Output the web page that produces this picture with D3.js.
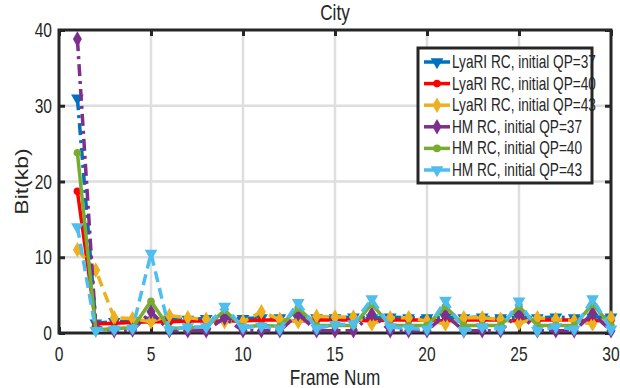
<!DOCTYPE html>
<html>
<head>
<meta charset="utf-8">
<script src="https://cdn.jsdelivr.net/npm/d3@7"></script>
<style>
  body { margin: 0; background: #fff; }
  text { font-family: "Liberation Sans", Arial, sans-serif; fill: #262626; }
</style>
</head>
<body>
<div id="chart"></div>
<script>
// frame numbers and bits (kb) per series
const frames = d3.range(1, 31);
const seriesNames = ["LyaRI RC, initial QP=37", "LyaRI RC, initial QP=40", "LyaRI RC, initial QP=43",
                     "HM RC, initial QP=37", "HM RC, initial QP=40", "HM RC, initial QP=43"];
const lyari37 = [31, 1.3, 1.5, 1.6, 1.7, 1.8, 1.8, 1.9, 1.9, 1.9, 2.0, 2.0, 2.0, 2.0, 2.0, 2.1, 2.0, 2.1, 2.0, 2.0, 2.1, 2.0, 2.1, 2.0, 2.1, 2.0, 2.1, 2.0, 2.1, 2.1];
const lyari40 = [18.7, 1.2, 1.3, 1.4, 1.5, 1.5, 1.6, 1.6, 1.6, 1.6, 1.7, 1.7, 1.6, 1.7, 1.7, 1.7, 1.6, 1.7, 1.7, 1.7, 1.6, 1.7, 1.7, 1.7, 1.6, 1.7, 1.7, 1.7, 1.6, 1.7];
const lyari43 = [11, 8.3, 2.0, 1.9, 1.5, 2.3, 2.0, 1.8, 1.5, 1.5, 2.8, 1.8, 1.5, 2.2, 2.1, 2.1, 1.2, 2.0, 2.0, 1.6, 1.2, 2.0, 2.0, 1.8, 1.3, 2.0, 1.8, 1.6, 1.2, 2.0];
const hm37 = [38.8, 0.8, 0.3, 0.4, 2.8, 0.3, 0.3, 0.3, 2.0, 0.3, 0.3, 0.3, 2.5, 0.3, 0.3, 0.3, 2.5, 0.3, 0.3, 0.3, 2.4, 0.3, 0.3, 0.3, 2.6, 0.3, 0.3, 0.3, 2.6, 0.3];
const hm40 = [23.8, 0.4, 0.6, 0.7, 4.2, 0.6, 0.7, 0.8, 3.0, 0.8, 1.0, 0.9, 3.3, 1.0, 1.0, 1.0, 3.8, 1.0, 1.0, 1.0, 3.5, 1.0, 1.0, 1.0, 3.5, 1.0, 1.0, 1.0, 3.8, 1.0];
const hm43 = [14, 0.3, 0.5, 0.6, 10.5, 0.4, 0.8, 0.8, 3.5, 0.7, 0.9, 0.5, 4.0, 0.6, 1.1, 1.2, 4.5, 0.8, 0.6, 0.5, 4.3, 0.3, 0.8, 0.5, 4.2, 0.3, 0.8, 0.5, 4.5, 0.5];
const xTicks = [0, 5, 10, 15, 20, 25, 30];
const yTicks = [0, 10, 20, 30, 40];

const seriesValues = [lyari37, lyari40, lyari43, hm37, hm40, hm43];
const colors = ["#0072BD", "#FF0000", "#EDB120", "#7E2F8E", "#77AC30", "#4DBEEE"];
const dashes = ["12,5,3,5", null, "11,6", "12,5,3,5", null, "11,6"];
const shapes = ["tri", "circle", "diamond", "diamond", "circle", "tri"];

let margin = {top: 30, right: 9, bottom: 55, left: 59},
    width = 620 - margin.left - margin.right,
    height = 388 - margin.top - margin.bottom;

const svg = d3.select("#chart").append("svg")
    .attr("width", 620).attr("height", 388)
    .append("g")
    .attr("transform", `translate(${margin.left},${margin.top})`);

const xScale = d3.scaleLinear().domain([0, 30]).range([0, width]);
const yScale = d3.scaleLinear().domain([0, 40]).range([height, 0]);

// condensed text, like the squeezed MATLAB export
function narrowText(parent, x, y, str, size, anchor) {
    return parent.append("text")
        .attr("transform", `translate(${x},${y}) scale(0.78,1)`)
        .attr("text-anchor", anchor || "start")
        .attr("font-size", size)
        .text(str);
}

// grid
svg.append("g").selectAll("line").data(xTicks.slice(1, -1)).join("line")
    .attr("x1", d => xScale(d)).attr("x2", d => xScale(d))
    .attr("y1", 0).attr("y2", height)
    .attr("stroke", "#dedede").attr("stroke-width", 2.5);
svg.append("g").selectAll("line").data(yTicks.slice(1, -1)).join("line")
    .attr("y1", d => yScale(d)).attr("y2", d => yScale(d))
    .attr("x1", 0).attr("x2", width)
    .attr("stroke", "#dedede").attr("stroke-width", 2.5);

// inward ticks on all four sides, labels drawn separately
svg.append("g").attr("transform", `translate(0,${height})`).call(d3.axisBottom(xScale).tickValues(xTicks).tickSize(-6).tickFormat(""));
svg.append("g").call(d3.axisLeft(yScale).tickValues(yTicks).tickSize(-6).tickFormat(""));
svg.append("g").call(d3.axisTop(xScale).tickValues(xTicks).tickSize(-6).tickFormat(""));
svg.append("g").attr("transform", `translate(${width},0)`).call(d3.axisRight(yScale).tickValues(yTicks).tickSize(-6).tickFormat(""));
svg.selectAll(".domain").remove();
svg.selectAll(".tick line").attr("stroke", "#262626").attr("stroke-width", 3);

xTicks.forEach(t => narrowText(svg, xScale(t), height + 28, t, 20, "middle"));
yTicks.forEach(t => narrowText(svg, -7, yScale(t) + 7, t, 20, "end"));

svg.append("rect").attr("width", width).attr("height", height)
    .attr("fill", "none").attr("stroke", "#262626").attr("stroke-width", 3);

function markerPath(shape) {
    if (shape === "tri") return d3.symbol(d3.symbolTriangle, 70)();
    if (shape === "circle") return d3.symbol(d3.symbolCircle, 45)();
    return d3.symbol(d3.symbolDiamond, 70)();
}
function markerRotate(shape) { return shape === "tri" ? " rotate(180)" : ""; }

const line = d3.line().x((d, i) => xScale(frames[i])).y(d => yScale(d));

seriesValues.forEach((vals, k) => {
    const g = svg.append("g");
    g.append("path").datum(vals)
        .attr("d", line)
        .attr("fill", "none")
        .attr("stroke", colors[k])
        .attr("stroke-width", 3.5)
        .attr("stroke-dasharray", dashes[k]);
    g.selectAll("path.m").data(vals).join("path")
        .attr("class", "m")
        .attr("d", markerPath(shapes[k]))
        .attr("transform", (d, i) => `translate(${xScale(frames[i])},${yScale(d)})` + markerRotate(shapes[k]))
        .attr("fill", colors[k]);
});

// title and labels
narrowText(svg, width / 2, -10, "City", 22, "middle");
narrowText(svg, width / 2, height + 52, "Frame Num", 22, "middle");
svg.append("text")
    .attr("transform", `translate(${-31},${height / 2}) rotate(-90) scale(1,0.8)`)
    .attr("text-anchor", "middle")
    .attr("font-size", 23)
    .text("Bit(kb)");

// legend
const legend = svg.append("g").attr("transform", `translate(${418 - margin.left},${48 - margin.top})`);
legend.append("rect").attr("width", 174).attr("height", 135)
    .attr("fill", "#fff").attr("stroke", "#262626").attr("stroke-width", 3);
seriesNames.forEach((name, k) => {
    const y = 14 + k * 21.6;
    legend.append("line").attr("x1", 6).attr("x2", 32).attr("y1", y).attr("y2", y)
        .attr("stroke", colors[k]).attr("stroke-width", 3.5);
    legend.append("path").attr("d", markerPath(shapes[k]))
        .attr("transform", `translate(19,${y})` + markerRotate(shapes[k]))
        .attr("fill", colors[k]);
    narrowText(legend, 34, y + 6, name, 17.5);
});
</script>
</body>
</html>
